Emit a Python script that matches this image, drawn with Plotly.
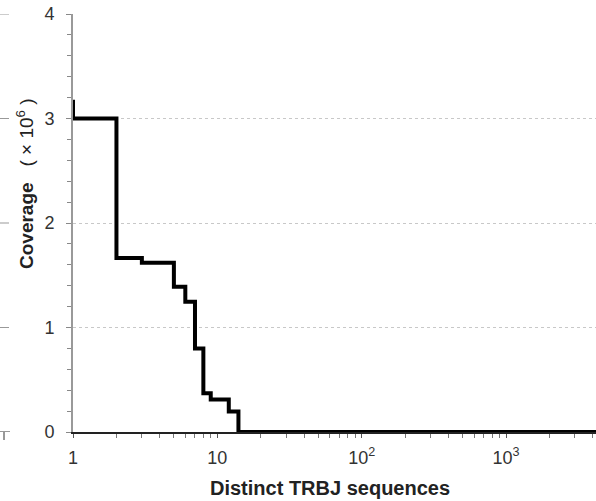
import plotly.graph_objects as go
import math

# Data: rank of distinct TRBJ sequence vs coverage (x 10^6), drawn as steps
ranks = [1, 1, 2, 3, 5, 6, 7, 8, 9, 12, 14, 5000]
coverage = [3.18, 3.0, 1.665, 1.62, 1.39, 1.247, 0.80, 0.37, 0.31, 0.195, 0.0, 0.0]

x_tickvals = [1, 10, 100, 1000]
x_ticktext = ["1", "10", "10<sup>2</sup>", "10<sup>3</sup>"]
x_minor = [k * 10 ** d for d in range(4) for k in range(2, 10)]
y_tickvals = [0, 1, 2, 3, 4]

FONT = "Liberation Sans, Arial, sans-serif"

fig = go.Figure()
fig.add_trace(go.Scatter(
    x=ranks, y=coverage, mode="lines",
    line=dict(shape="hv", color="black", width=4),
    showlegend=False,
))

W, H = 596, 501
L, R, T, B = 73, 0, 14, 69
pw = W - L - R
ph = H - T - B

fig.update_layout(
    width=W, height=H,
    margin=dict(l=L, r=R, t=T, b=B, pad=0),
    paper_bgcolor="white", plot_bgcolor="white",
    font=dict(family=FONT, color="#333333"),
    xaxis=dict(
        type="log", range=[0, math.log10(4200)],
        tickmode="array", tickvals=x_tickvals, ticktext=x_ticktext,
        tickfont=dict(size=18, color="#333333"),
        showline=True, linecolor="#222222", linewidth=2,
        ticks="outside", ticklen=4, tickcolor="#555555", tickwidth=1,
        ticklabelstandoff=4,
        showgrid=False, zeroline=False,
        minor=dict(tickmode="array", tickvals=x_minor, ticks="outside",
                   ticklen=4, tickcolor="#777777", tickwidth=1, showgrid=False),
    ),
    yaxis=dict(
        range=[0, 4],
        tickmode="array", tickvals=y_tickvals,
        tickfont=dict(size=18, color="#333333"),
        showline=True, linecolor="#999999", linewidth=2,
        ticks="outside", ticklen=5, tickcolor="#888888", tickwidth=1,
        ticklabelstandoff=8,
        showgrid=True, gridcolor="#c8c8c8", griddash="dot", gridwidth=1,
        zeroline=False,
        minor=dict(dtick=0.2, ticks="outside", ticklen=4,
                   tickcolor="#888888", tickwidth=1, showgrid=False),
    ),
)

# Axis titles
fig.add_annotation(
    text="<b>Coverage</b>   ( × 10<sup>6</sup> )",
    xref="paper", yref="paper",
    x=(25 - L) / pw, y=(T + ph - 184) / ph,
    xanchor="center", yanchor="middle", textangle=-90, showarrow=False,
    font=dict(size=19, color="#222222", family=FONT),
)
fig.add_annotation(
    text="<b>Distinct TRBJ sequences</b>",
    xref="paper", yref="paper",
    x=(330 - L) / pw, y=(T + ph - 488) / ph,
    xanchor="center", yanchor="middle", showarrow=False,
    font=dict(size=20, color="#222222", family=FONT),
)

# Fragments of the neighbouring panel at the left edge
for v in [1, 2, 3, 4]:
    fig.add_shape(type="line", xref="paper", yref="y",
                  x0=-L / pw, x1=(10 - L) / pw, y0=v, y1=v,
                  line=dict(color="#999999", width=1, dash="dash"))
fig.add_shape(type="line", xref="paper", yref="y",
              x0=-L / pw, x1=(10 - L) / pw, y0=0, y1=0,
              line=dict(color="#333333", width=1))
fig.add_shape(type="line", xref="paper", yref="paper",
              x0=(4 - L) / pw, x1=(4 - L) / pw, y0=0, y1=-8 / ph,
              line=dict(color="#333333", width=1))

fig.write_html("out.html")
